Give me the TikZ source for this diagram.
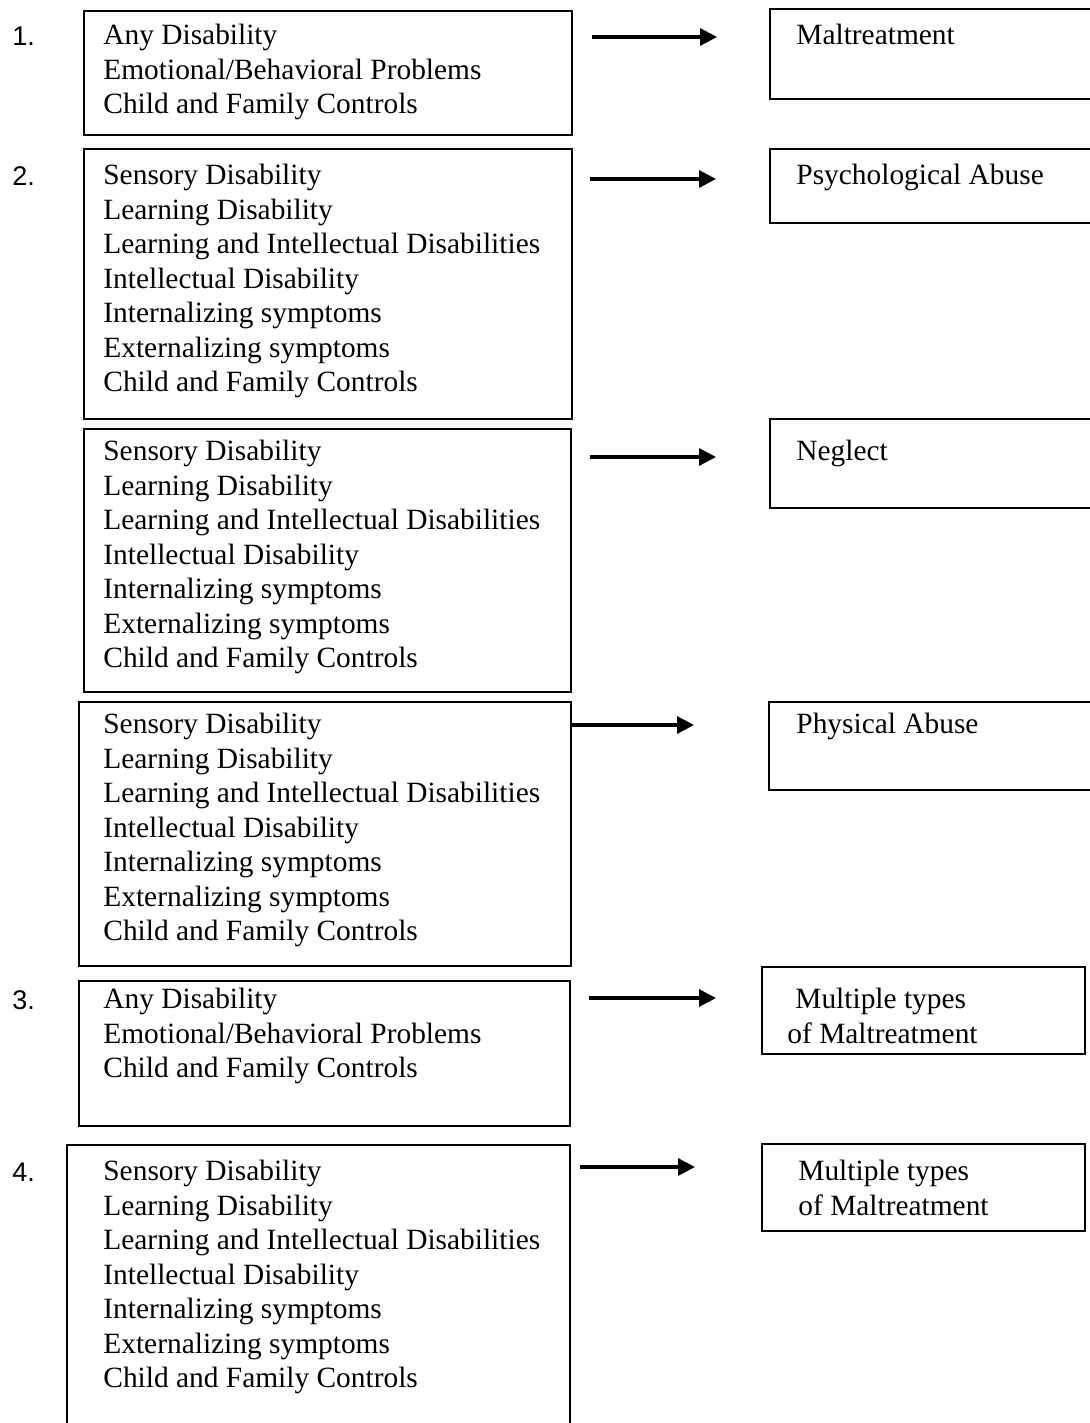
\documentclass[tikz,border=0pt]{standalone}
\usepackage{fontspec}
\setmainfont{Liberation Serif}
\newfontfamily\numfont{Liberation Sans}
\usetikzlibrary{positioning,arrows.meta}

\tikzset{
  boxframe/.style={rectangle, draw, line width=0.9pt, anchor=north west, inner sep=0pt},
  txt/.style={inner sep=0pt, align=left, font=\fontsize{14.7}{17.25}\selectfont},
  num/.style={inner sep=0pt, anchor=west, font=\numfont\fontsize{13.5}{16}\selectfont},
  arr/.style={-{Triangle[length=8.5pt,width=8.5pt]}, line width=1.6pt}
}

\newcommand{\longlist}{Sensory Disability\\Learning Disability\\Learning and Intellectual Disabilities\\Intellectual Disability\\Internalizing symptoms\\Externalizing symptoms\\Child and Family Controls}
\newcommand{\shortlist}{Any Disability\\Emotional/Behavioral Problems\\Child and Family Controls}

\begin{document}
\begin{tikzpicture}[x=0.5pt, y=-0.5pt]
        \useasboundingbox (0,0) rectangle (1089,1423);

        % left column
        \node[boxframe, minimum width=244pt, minimum height=62pt] (b1) at (83,10) {};
        \node[boxframe, minimum width=244pt, minimum height=135pt] (b2) at (83,148) {};
        \node[boxframe, minimum width=243.5pt, minimum height=131.5pt] (b3) at (83,428) {};
        \node[boxframe, minimum width=246pt, minimum height=132pt] (b4) at (78,701) {};
        \node[boxframe, minimum width=245.5pt, minimum height=72.5pt] (b5) at (78,980) {};
        \node[boxframe, minimum width=251.5pt, minimum height=150pt] (b6) at (66,1144) {};

        \node[txt, below right=7pt and 10pt of b1.north west] (t1) {\shortlist};
        \node[txt, below right=8pt and 10pt of b2.north west] (t2) {\longlist};
        \node[txt, below right=6pt and 10pt of b3.north west] (t3) {\longlist};
        \node[txt, below right=6pt and 12.5pt of b4.north west] (t4) {\longlist};
        \node[txt, below right=4pt and 12.5pt of b5.north west] (t5) {\shortlist};
        \node[txt, below right=8pt and 18.5pt of b6.north west] (t6) {\longlist};

        % numbers
        \node[num] (n1) at (12,36) {1.};
        \node[num] (n2) at (12,176) {2.};
        \node[num] (n3) at (12,1000) {3.};
        \node[num] (n4) at (12,1172) {4.};

        % right column
        \node[boxframe, minimum width=165pt, minimum height=45pt] (r1) at (769,8) {};
        \node[boxframe, minimum width=165pt, minimum height=37pt] (r2) at (769,148) {};
        \node[boxframe, minimum width=165pt, minimum height=44.5pt] (r3) at (769,418) {};
        \node[boxframe, minimum width=165pt, minimum height=44pt] (r4) at (768,701) {};
        \node[boxframe, minimum width=161.5pt, minimum height=43.5pt] (r5) at (761,966) {};
        \node[boxframe, minimum width=161.5pt, minimum height=43.5pt] (r6) at (761,1143) {};

        \node[txt, below right=8pt and 13.5pt of r1.north west] (s1) {Maltreatment};
        \node[txt, below right=8pt and 13.5pt of r2.north west] (s2) {Psychological Abuse};
        \node[txt, below right=11pt and 13.5pt of r3.north west] (s3) {Neglect};
        \node[txt, below right=6pt and 14pt of r4.north west] (s4) {Physical Abuse};
        \node[txt, below right=11pt and 13pt of r5.north west] (s5) {\hspace*{4pt}Multiple types\\of Maltreatment};
        \node[txt, below right=8.5pt and 18.5pt of r6.north west] (s6) {Multiple types\\of Maltreatment};

        % arrows
        \coordinate (a1) at (0,37);
        \coordinate (a2) at (0,179);
        \coordinate (a3) at (0,457);
        \coordinate (a4) at (0,725);
        \coordinate (a5) at (0,998);
        \coordinate (a6) at (0,1167);

        \draw[arr, shorten <=9.5pt, shorten >=26pt] (b1.east |- a1) -- (r1.west |- a1);
        \draw[arr, shorten <=8.5pt, shorten >=26.5pt] (b2.east |- a2) -- (r2.west |- a2);
        \draw[arr, shorten <=9pt, shorten >=26.5pt] (b3.east |- a3) -- (r3.west |- a3);
        \draw[arr, shorten >=37pt] (b4.east |- a4) -- (r4.west |- a4);
        \draw[arr, shorten <=9pt, shorten >=22.5pt] (b5.east |- a5) -- (r5.west |- a5);
        \draw[arr, shorten <=4.5pt, shorten >=33pt] (b6.east |- a6) -- (r6.west |- a6);
      \end{tikzpicture}
\end{document}
